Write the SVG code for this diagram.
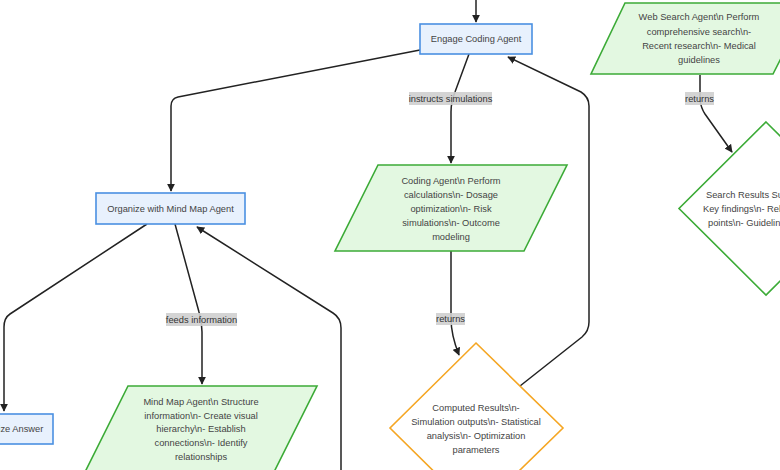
<svg xmlns="http://www.w3.org/2000/svg" width="780" height="470" viewBox="0 0 780 470">
<defs>
<marker id="arr" viewBox="0 0 10 10" refX="9" refY="5" markerWidth="8" markerHeight="8" markerUnits="userSpaceOnUse" orient="auto">
<path d="M0,0 L10,5 L0,10 z" fill="#222"/>
</marker>
<style>
.proc{fill:#e8f1fd;stroke:#4a90e2;stroke-width:1.6}
.agent{fill:#e3f8e1;stroke:#3cab37;stroke-width:1.6}
.res{fill:#ffffff;stroke:#3cab37;stroke-width:1.6}
.comp{fill:#ffffff;stroke:#f5a623;stroke-width:1.6}
.edge{fill:none;stroke:#222;stroke-width:1.5}
text{font-family:"Liberation Sans",Arial,sans-serif;font-size:9.3px;fill:#444}
.c{text-anchor:middle}
.lblbg{fill:#cfcfcf;opacity:0.9}
.lbl{text-anchor:middle;fill:#333}
</style>
</defs>
<rect width="780" height="470" fill="#ffffff"/>

<g id="connectors">
<path class="edge" d="M476,0 L476,22" marker-end="url(#arr)"/>
<path class="edge" d="M420,50 L178,97 Q171,98.5 171,106 L171,191" marker-end="url(#arr)"/>
<path class="edge" d="M469,54 L455,92 Q451,102 451,112 L451,163" marker-end="url(#arr)"/>
<path class="edge" d="M451,251 L451,318 Q451,335 459,355" marker-end="url(#arr)"/>
<path class="edge" d="M520,386 L582,337 Q589,331 589,322 L589,106 Q589,97 581,92 L508,57" marker-end="url(#arr)"/>
<path class="edge" d="M147,224 L10,314 Q4,318 4,327 L4,411" marker-end="url(#arr)"/>
<path class="edge" d="M175,224 L199,312 Q202,322 202,332 L202,384" marker-end="url(#arr)"/>
<path class="edge" d="M341,470 L341,328 Q341,318 333,313 L197,227" marker-end="url(#arr)"/>
<path class="edge" d="M700,75 L700,100 Q701,108 705,114 L732,152" marker-end="url(#arr)"/>
<g id="edge-labels">
<rect class="lblbg" x="409" y="92" width="83" height="13"/>
<text class="lbl" x="450.5" y="101.5">instructs simulations</text>
<rect class="lblbg" x="166" y="313" width="71" height="13"/>
<text class="lbl" x="201.5" y="322.5">feeds information</text>
<rect class="lblbg" x="436" y="313" width="29" height="12"/>
<text class="lbl" x="450.5" y="322">returns</text>
<rect class="lblbg" x="685" y="92" width="29" height="13"/>
<text class="lbl" x="699.5" y="101.5">returns</text>
</g>
</g>

<g id="engage">
<rect class="proc" x="420" y="24" width="112" height="30"/>
<text class="c" x="476" y="42.3">Engage Coding Agent</text>
</g>

<g id="organize">
<rect class="proc" x="96" y="193" width="149" height="31"/>
<text class="c" x="170.5" y="211.8">Organize with Mind Map Agent</text>
</g>

<g id="answer">
<rect class="proc" x="-45" y="414" width="98" height="30"/>
<text class="c" x="4" y="432.3">Synthesize Answer</text>
</g>

<g id="coding">
<polygon class="agent" points="378,165 567,165 524,251 335,251"/>
<text class="c" x="451" y="184.3">Coding Agent\n Perform</text>
<text class="c" x="451" y="198.3">calculations\n- Dosage</text>
<text class="c" x="451" y="212.3">optimization\n- Risk</text>
<text class="c" x="451" y="226.3">simulations\n- Outcome</text>
<text class="c" x="451" y="240.3">modeling</text>
</g>

<g id="mindmap">
<polygon class="agent" points="128,386 317,386 274,472 85,472"/>
<text class="c" x="201" y="405.3">Mind Map Agent\n Structure</text>
<text class="c" x="201" y="418.8">information\n- Create visual</text>
<text class="c" x="201" y="432.3">hierarchy\n- Establish</text>
<text class="c" x="201" y="446.3">connections\n- Identify</text>
<text class="c" x="201" y="460.3">relationships</text>
</g>

<g id="computed">
<polygon class="comp" points="476,343 563,428 476,513 390,428"/>
<text class="c" x="476" y="411.3">Computed Results\n-</text>
<text class="c" x="476" y="425.3">Simulation outputs\n- Statistical</text>
<text class="c" x="476" y="439.3">analysis\n- Optimization</text>
<text class="c" x="476" y="453.3">parameters</text>
</g>

<g id="websearch">
<polygon class="agent" points="625,3 809,3 773,74 591,74"/>
<text class="c" x="699" y="20.3">Web Search Agent\n Perform</text>
<text class="c" x="699" y="35">comprehensive search\n-</text>
<text class="c" x="699" y="49.3">Recent research\n- Medical</text>
<text class="c" x="699" y="63.3">guidelines</text>
</g>

<g id="searchresults">
<polygon class="res" points="766,122 853,208.5 766,295 679,208.5"/>
<text x="706" y="198.3">Search Results Summary\n-</text>
<text x="703" y="212.3">Key findings\n- Relevant data</text>
<text x="708" y="226.3">points\n- Guidelines</text>
</g>
</svg>
